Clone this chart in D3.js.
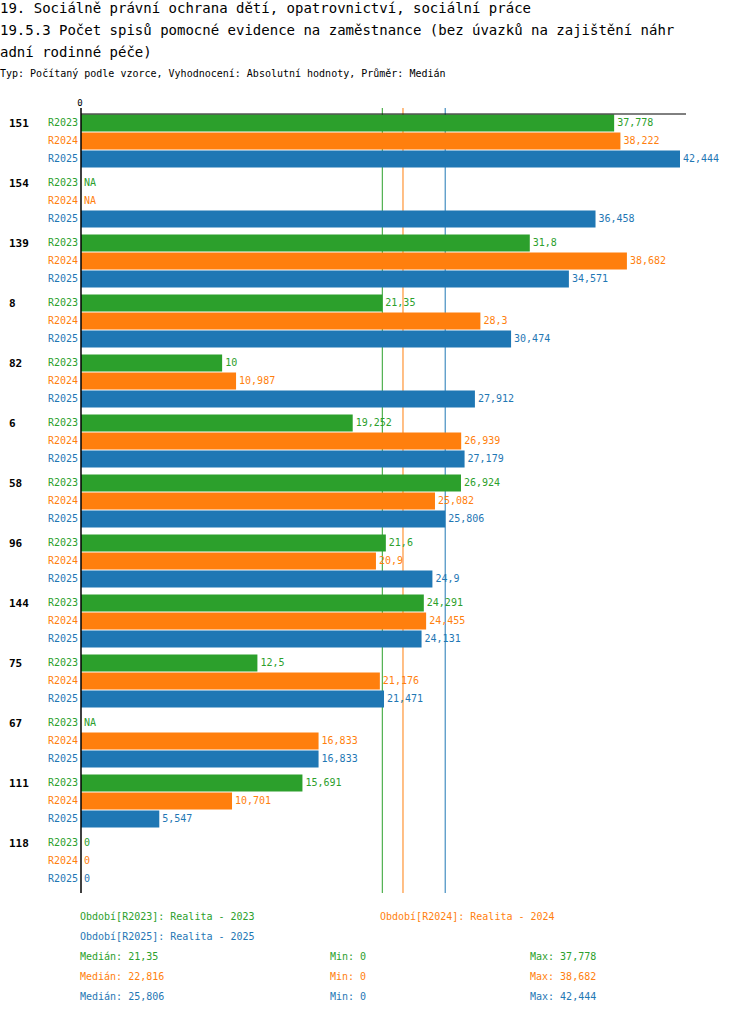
<!DOCTYPE html>
<html>
<head>
<meta charset="utf-8">
<script src="https://cdn.jsdelivr.net/npm/d3@7"></script>
<style>
  body { margin: 0; background: #fff; }
  text { font-family: "DejaVu Sans Mono", monospace; }
</style>
</head>
<body>
<script>
  // chart data
  var categories = ["151", "154", "139", "8", "82", "6", "58", "96", "144", "75", "67", "111", "118"];
  var series = ["R2023", "R2024", "R2025"];
  var colors = ["#2ca02c", "#ff7f0e", "#1f77b4"];
  var r2023 = [37.778, null, 31.8, 21.35, 10, 19.252, 26.924, 21.6, 24.291, 12.5, null, 15.691, 0];
  var r2024 = [38.222, null, 38.682, 28.3, 10.987, 26.939, 25.082, 20.9, 24.455, 21.176, 16.833, 10.701, 0];
  var r2025 = [42.444, 36.458, 34.571, 30.474, 27.912, 27.179, 25.806, 24.9, 24.131, 21.471, 16.833, 5.547, 0];
  var medians = [21.35, 22.816, 25.806];
  var mins = [0, 0, 0];
  var maxs = [37.778, 38.682, 42.444];
  var legendNames = ["Období[R2023]: Realita - 2023", "Období[R2024]: Realita - 2024", "Období[R2025]: Realita - 2025"];
  var values = [r2023, r2024, r2025];

  var fmt = function (v) { return String(v).replace(".", ","); };

  var svg = d3.select("body").append("svg").attr("width", 750).attr("height", 1014);

  svg.append("text").attr("x", 0).attr("y", 13).style("font-size", "14px").text("19. Sociálně právní ochrana dětí, opatrovnictví, sociální práce");
  svg.append("text").attr("x", 0).attr("y", 35).style("font-size", "14px").text("19.5.3 Počet spisů pomocné evidence na zaměstnance  (bez úvazků na zajištění náhr");
  svg.append("text").attr("x", 0).attr("y", 57).style("font-size", "14px").text("adní rodinné péče)");
  svg.append("text").attr("x", 0).attr("y", 77).style("font-size", "10px").text("Typ: Počítaný podle vzorce, Vyhodnocení: Absolutní hodnoty, Průměr: Medián");

  var x = d3.scaleLinear().domain([0, 42.444]).range([81, 680]);
  var y = d3.scaleBand().domain(categories).range([114, 894]).paddingInner(0).paddingOuter(0);
  var rowH = 18;

  // median lines
  medians.forEach(function (m, i) {
    svg.append("line").attr("x1", x(m)).attr("x2", x(m)).attr("y1", 108).attr("y2", 893)
      .attr("stroke", colors[i]).attr("stroke-width", 1);
  });

  categories.forEach(function (c, ci) {
    var g = svg.append("g").attr("transform", "translate(0," + y(c) + ")");
    g.append("text").attr("x", 9).attr("y", 13).style("font-size", "11px").style("font-weight", "bold").text(c);
    series.forEach(function (s, si) {
      var v = values[si][ci];
      var top = si * rowH;
      g.append("text").attr("x", 78).attr("y", top + 12).attr("text-anchor", "end")
        .attr("fill", colors[si]).style("font-size", "10px").text(s);
      if (v != null && v > 0) {
        g.append("rect").attr("x", x(0)).attr("y", top + 0.5).attr("width", x(v) - x(0)).attr("height", 17)
          .attr("fill", colors[si]);
      }
      g.append("text").attr("x", x(v || 0) + 3).attr("y", top + 12)
        .attr("fill", colors[si]).style("font-size", "10px").text(v == null ? "NA" : fmt(v));
    });
  });

  // axes
  svg.append("line").attr("x1", 81).attr("x2", 686).attr("y1", 114).attr("y2", 114).attr("stroke", "#000");
  svg.append("line").attr("x1", 81).attr("x2", 81).attr("y1", 108).attr("y2", 893).attr("stroke", "#000").attr("stroke-width", 1.5);
  svg.append("text").attr("x", 80).attr("y", 106).attr("text-anchor", "middle").style("font-size", "9px").text("0");

  // legend
  var lg = [[80, 920, 0], [380, 920, 1], [80, 940, 2]];
  lg.forEach(function (p) {
    svg.append("text").attr("x", p[0]).attr("y", p[1]).attr("fill", colors[p[2]]).style("font-size", "10px").text(legendNames[p[2]]);
  });
  series.forEach(function (s, i) {
    var yy = 960 + i * 20;
    svg.append("text").attr("x", 80).attr("y", yy).attr("fill", colors[i]).style("font-size", "10px").text("Medián: " + fmt(medians[i]));
    svg.append("text").attr("x", 330).attr("y", yy).attr("fill", colors[i]).style("font-size", "10px").text("Min: " + fmt(mins[i]));
    svg.append("text").attr("x", 530).attr("y", yy).attr("fill", colors[i]).style("font-size", "10px").text("Max: " + fmt(maxs[i]));
  });
</script>
</body>
</html>
